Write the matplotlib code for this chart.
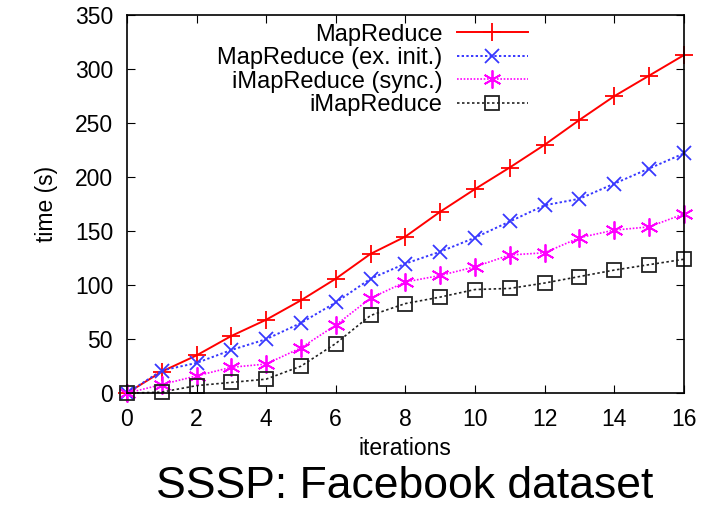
import matplotlib
matplotlib.use("Agg")
import matplotlib.pyplot as plt

plt.rcParams['font.family'] = ['Liberation Sans', 'DejaVu Sans']

iterations = list(range(17))
mapreduce = [0, 20, 35, 53, 68, 86, 106, 129, 145, 168, 189, 209, 230, 253, 275, 294, 313]
mapreduce_ex_init = [0, 21, 28, 40, 50, 65, 84, 106, 120, 131, 144, 159, 174, 180, 194, 208, 222]
imapreduce_sync = [0, 8, 16, 24, 27, 42, 63, 88, 103, 109, 117, 128, 130, 144, 151, 154, 166]
imapreduce = [0, 1, 7, 10, 13, 25, 46, 72, 83, 89, 96, 97, 102, 108, 114, 119, 124]

labels = ["MapReduce", "MapReduce (ex. init.)", "iMapReduce (sync.)", "iMapReduce"]
xticks = [0, 2, 4, 6, 8, 10, 12, 14, 16]
yticks = [0, 50, 100, 150, 200, 250, 300, 350]

fig = plt.figure(figsize=(7.13, 5.08), dpi=100)
ax = fig.add_axes([0.178, 0.226, 0.781, 0.744])

ax.plot(iterations, mapreduce, color='#ff0000', lw=1.4, ls='-', marker='+',
        ms=13, mew=1.3, label=labels[0])
ax.plot(iterations, mapreduce_ex_init, color='#3838ff', lw=1.4, ls=(0, (1.2, 1.2)), marker='x',
        ms=10, mew=1.3, label=labels[1])
ax.plot(iterations, imapreduce_sync, color='#ff00ff', lw=1.2, ls=(0, (1, 1)), marker=(6, 2, 0),
        ms=13, mew=1.3, label=labels[2])
ax.plot(iterations, imapreduce, color='#222222', lw=1.2, ls=(0, (1.5, 1.5)), marker='s',
        ms=10, mew=1.3, mfc='none', label=labels[3])

ax.set_xlim(0, 16)
ax.set_ylim(0, 350)
ax.set_xticks(xticks)
ax.set_yticks(yticks)
ax.tick_params(direction='in', length=6, top=True, right=True, labelsize=16.5)
ax.tick_params(axis='x', pad=11)
ax.tick_params(axis='y', pad=10)
for s in ax.spines.values():
    s.set_linewidth(1.2)

ax.set_xlabel("iterations", fontsize=16.5, labelpad=4)
ax.set_ylabel("time (s)", fontsize=16.5, labelpad=12)

leg = ax.legend(loc='upper left', bbox_to_anchor=(0.137, 1.015), markerfirst=False, frameon=False,
                fontsize=17, handlelength=3.0, labelspacing=0.06, handletextpad=0.6,
                borderaxespad=0.2)
for ln in ax.get_lines():
    ln.set_clip_on(False)

fig.text(0.568, 0.002, "SSSP: Facebook dataset", ha='center', va='bottom', fontsize=32)

fig.savefig("out.png", dpi=100)
